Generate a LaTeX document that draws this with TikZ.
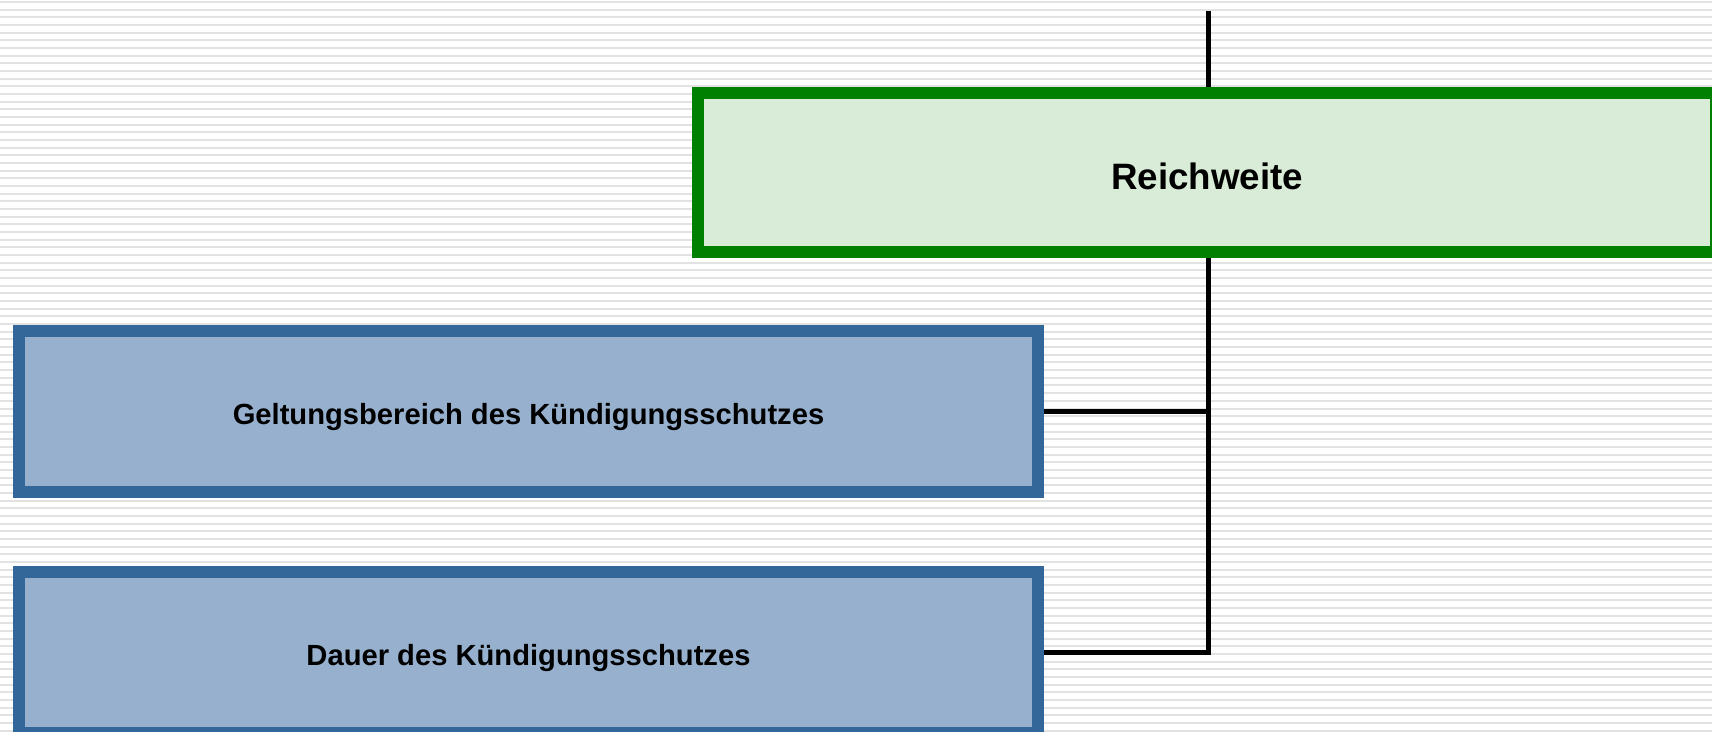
\documentclass[tikz,border=0pt]{standalone}
\usepackage{fontspec}
\setmainfont{Liberation Sans}
\usepackage{xcolor}
\usepackage{tikz}

\definecolor{boxgreen}{RGB}{0,128,0}
\definecolor{greenfill}{RGB}{216,236,216}
\definecolor{boxblue}{RGB}{51,102,153}
\definecolor{bluefill}{RGB}{150,176,205}
\definecolor{stripe}{RGB}{226,226,226}

\begin{document}
\begin{tikzpicture}[x=0.02cm, y=-0.02cm,
    mainbox/.style={draw=boxgreen, fill=greenfill, line width=0.24cm, minimum width=20.36cm, minimum height=3.18cm, text height=19pt, text depth=0pt, font=\fontsize{20.9}{25}\selectfont\bfseries},
    subbox/.style={draw=boxblue, fill=bluefill, line width=0.24cm, minimum width=20.38cm, minimum height=3.22cm, text height=18.6pt, text depth=3.5pt, font=\fontsize{16.6}{20}\selectfont\bfseries},
    link/.style={line width=0.1cm}]
            \useasboundingbox (0,0) rectangle (1712,732);
            \clip (0,0) rectangle (1712,732);

            % Background stripes
            \fill[white] (0,0) rectangle (1712,732);
            \foreach \i in {0,...,95}
                \draw[stripe, line width=0.04cm] (0,\i*7.67+2) -- (1712,\i*7.67+2);

            % Top - Reichweite
            \node[mainbox] (reach) at (1207,172.5) {Reichweite};
            \coordinate (feed) at (1208,11);
            \draw[link] (feed) -- (feed |- reach.north);

            % Left side - Geltungsbereich and Dauer
            \node[subbox] (geltung) at (528.5,411.5) {Geltungsbereich des Kündigungsschutzes};
            \node[subbox] (dauer) at (528.5,652.5) {Dauer des Kündigungsschutzes};

            % Connectors
            \draw[link] (feed |- reach.south) -- (feed |- dauer.east) -- (dauer.east);
            \draw[link] (geltung.east) -- (feed |- geltung.east);
        \end{tikzpicture}
\end{document}
